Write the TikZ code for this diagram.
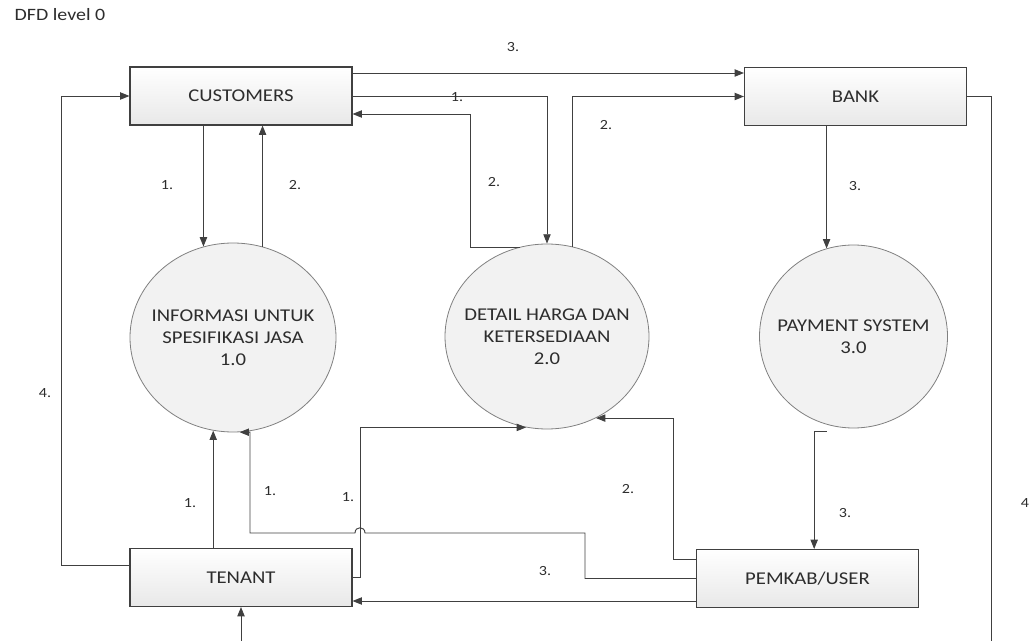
\documentclass[tikz,border=0pt]{standalone}
\usepackage{fontspec}
\setmainfont{Carlito}[FakeStretch=1.15]
\usetikzlibrary{shapes.geometric, arrows.meta}
\definecolor{dfdgray}{RGB}{64, 64, 64}
\definecolor{dfdtext}{RGB}{45, 45, 45}
\definecolor{dfdshade}{RGB}{232, 232, 232}
\definecolor{procshade}{RGB}{242, 242, 242}
\tikzset{
  entnode/.style={rectangle, draw=dfdgray, line width=0.8pt, top color=white, bottom color=dfdshade, minimum width=166.5pt, minimum height=43.5pt, inner sep=0pt, text=dfdtext, font=\fontsize{13.5}{16}\selectfont},
  procnode/.style={ellipse, draw=gray, line width=0.6pt, fill=procshade, inner sep=0pt},
  proctext/.style={align=center, text=dfdtext, font=\fontsize{13.5}{16.3}\selectfont},
  dfdarrow/.style={-{Triangle[length=7pt,width=5.5pt]}, dfdgray, line width=0.7pt},
  dfdwire/.style={dfdgray, line width=0.7pt},
  flowlbl/.style={text=dfdtext, font=\fontsize{10.5}{12}\selectfont},
}

\begin{document}
\begin{tikzpicture}[x=0.75pt, y=-0.75pt]
  \useasboundingbox (0,0) rectangle (1031,641);
  \node[anchor=west, text=dfdtext, font=\fontsize{13}{15}\selectfont] (ttl) at (10,15) {DFD level 0};
  % external entities
  \node[entnode] (cust) at (241,96) {CUSTOMERS};
  \node[entnode] (bank) at (855.5,96.5) {BANK};
  \node[entnode] (ten) at (241,577.5) {TENANT};
  \node[entnode] (pem) at (807.5,578.5) {PEMKAB/USER};
  % processes
  \node[procnode, minimum width=154.5pt, minimum height=141.75pt, label={[proctext]center:{INFORMASI UNTUK\\SPESIFIKASI JASA\\1.0}}] (p1) at (233,337.5) {};
  \node[procnode, minimum width=153pt, minimum height=138.75pt, label={[proctext]center:{DETAIL HARGA DAN\\KETERSEDIAAN\\2.0}}] (p2) at (547,336.5) {};
  \node[procnode, minimum width=141pt, minimum height=137.25pt, label={[proctext]center:{PAYMENT SYSTEM\\3.0}}] (p3) at (853.5,336.5) {};
  \coordinate (bk) at (991,641);
  \coordinate (tb) at (241,641);

  % customers and process 1
  \draw[dfdarrow] (cust.south -| p1.108) -- (p1.108);
  \draw[dfdarrow] (p1.72) -- (p1.72 |- cust.south);
  % customers, bank and process 2
  \draw[dfdarrow] (cust.east |- 0,73) -- (bank.west |- 0,73);
  \draw[dfdarrow] (cust.east) -| (p2.north);
  \draw[dfdarrow] (p2.107) -| (470,114) -- (cust.east |- 0,114);
  \draw[dfdarrow] (p2.74) |- (bank.west);
  \draw[dfdarrow] (bank.south -| p3.107) -- (p3.107);
  \draw[dfdwire] (bank.east) -| (bk);
  \draw[dfdarrow] (tb) -- (ten.south);
  % tenant
  \draw[dfdarrow] (ten.west |- 0,565) -| (61,96) -- (cust.west);
  \draw[dfdarrow] (ten.north -| p1.258) -- (p1.258);
  \draw[dfdarrow] (ten.east) -- (360,577.5) |- (p2.257);
  % pemkab
  \draw[dfdarrow] (pem.west) -- (585,578.5) -- (585,533) -- (365,533) .. controls (365,526) and (355,526) .. (355,533) -- (250,533) |- (p1.274);
  \draw[dfdarrow] (pem.west |- 0,559) -- (673,559) |- (p2.301);
  \draw[dfdarrow] (pem.west |- 0,601) -- (ten.east |- 0,601);
  \draw[dfdarrow] ([yshift=-5pt]p3.253) -| ([xshift=5pt]pem.north);

  % flow labels
  \node[flowlbl] (f1) at (167,185) {1.};
  \node[flowlbl] (f2) at (295,185) {2.};
  \node[flowlbl] (f3) at (513,47) {3.};
  \node[flowlbl] (f4) at (457,97) {1.};
  \node[flowlbl] (f5) at (494,182) {2.};
  \node[flowlbl] (f6) at (606,125) {2.};
  \node[flowlbl] (f7) at (855,186) {3.};
  \node[flowlbl] (f8) at (45,393) {4.};
  \node[flowlbl] (f9) at (190,503) {1.};
  \node[flowlbl] (f10) at (270,491) {1.};
  \node[flowlbl] (f11) at (348,497) {1.};
  \node[flowlbl] (f12) at (628,489) {2.};
  \node[flowlbl] (f13) at (545,571) {3.};
  \node[flowlbl] (f14) at (845,513) {3.};
  \node[flowlbl] (f15) at (1025,503) {4};
\end{tikzpicture}
\end{document}
